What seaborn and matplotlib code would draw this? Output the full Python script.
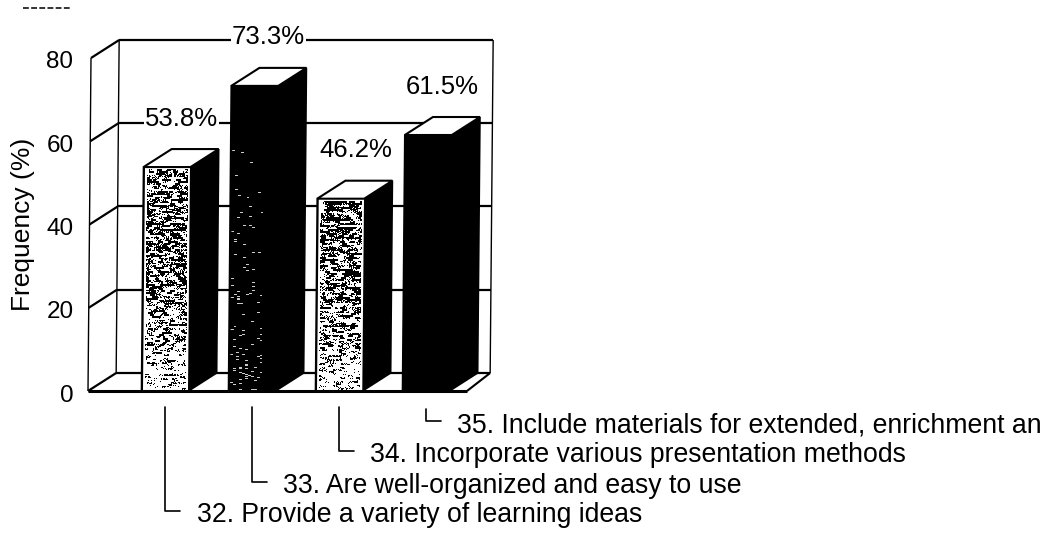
import numpy as np
import pandas as pd
import matplotlib
matplotlib.use("Agg")
import matplotlib.pyplot as plt
from matplotlib.patches import Polygon
from matplotlib.transforms import Affine2D
import seaborn as sns

items = [
    "32. Provide a variety of learning ideas",
    "33. Are well-organized and easy to use",
    "34. Incorporate various presentation methods",
    "35. Include materials for extended, enrichment an",
]
frequency = [53.8, 73.3, 46.2, 61.5]
value_labels = ["53.8%", "73.3%", "46.2%", "61.5%"]
y_ticks = [0, 20, 40, 60, 80]
stippled = [True, False, True, False]

W, H = 1051, 535
sns.set_theme(style="white")
plt.rcParams["font.family"] = ["Liberation Sans", "DejaVu Sans"]

fig = plt.figure(figsize=(W / 100, H / 100), dpi=100, facecolor="white")
# plot box of the front plane, in pixels from the top-left corner
left, right, base, top = 88, 467, 391, 58
ax = fig.add_axes([left / W, 1 - base / H, (right - left) / W, (base - top) / H])

px_x = 87.0
x0_px = 165.0
px_y = (base - top) / 80
ax.set_xlim((left - x0_px) / px_x, (right - x0_px) / px_x)
ax.set_ylim(0, 80)

df = pd.DataFrame({"item": items, "frequency": frequency})
sns.barplot(data=df, x="item", y="frequency", color="black", width=0.54,
            saturation=1, ax=ax, zorder=3)
ax.set_xlim((left - x0_px) / px_x, (right - x0_px) / px_x)
ax.set_ylim(0, 80)

# slight lean of the whole drawing
lean = Affine2D.from_values(1, 0, (3 / px_x) / 80, 1, 0, 0) + ax.transData
bars = list(ax.patches)

def X(px):
    return px / px_x

def Y(px):
    return px / px_y

def cell_hash(a, b, salt):
    # deterministic grain for the printed halftone look
    return np.modf(np.abs(np.sin(a * 12.9898 + b * 78.233 + salt) * 43758.5453))[0]

wall_dx, wall_dy = X(28), Y(18)
xa, xb = ax.get_xlim()
xr = xb + X(23)

def line(xs, ys, lw=1.6, z=1, ls="-"):
    ax.plot(xs, ys, color="black", lw=lw, ls=ls, zorder=z, clip_on=False,
            transform=lean, solid_capstyle="butt")

# back wall, side wall and floor
for t in y_ticks:
    line([xa + wall_dx, xr], [t + wall_dy] * 2)
    line([xa, xa + wall_dx], [t, t + wall_dy])
line([xa, xa], [0, 80], lw=1.0)
line([xa + wall_dx] * 2, [wall_dy, 80 + wall_dy], lw=1.0)
line([xr] * 2, [wall_dy, 80 + wall_dy], lw=1.0)
line([xa, xb], [0, 0], lw=2.2, z=6)
line([xb, xr], [0, wall_dy], lw=1.5, z=6)

# 3D faces on each bar, plus a stipple or speckle on the front
dx, dy = X(28), Y(18)
for bar, v, dotted in zip(bars, frequency, stippled):
    x1, x2 = bar.get_x(), bar.get_x() + bar.get_width()
    bar.set_transform(lean)
    bar.set_clip_on(False)
    bar.set_edgecolor("black")
    bar.set_linewidth(1.2)
    ax.add_patch(Polygon([(x2, 0), (x2, v), (x2 + dx, v + dy), (x2 + dx, dy)],
                         closed=True, fc="black", ec="black", lw=1.2,
                         transform=lean, zorder=3, clip_on=False))
    ax.add_patch(Polygon([(x1, v), (x2, v), (x2 + dx, v + dy), (x1 + dx, v + dy)],
                         closed=True, fc="white", ec="black", lw=1.5,
                         transform=lean, zorder=4, clip_on=False))
    rows = int(v * px_y)
    cols = 46
    yy, xx = np.mgrid[0:rows, 0:cols]
    depth = yy / max(rows - 1, 1)  # 0 at the top of the bar
    band = yy // 2
    blob = cell_hash(band, (xx + 3 * band) // 5, v)
    fine = cell_hash(xx, yy, v + 1.0)
    rgba = np.ones((rows, cols, 4))
    if dotted:
        score = 0.62 * blob + 0.38 * fine
        limit = 0.46 + 0.28 * np.clip(depth - 0.45, 0, 1) / 0.55
        dark = score > limit
        dark[:, :2] = False
        dark[:, -2:] = False
        dark[:2, :] = False
        rgba[dark] = (0, 0, 0, 1)
    else:
        streak = cell_hash(yy, xx // 3, v)
        speck = streak > 0.995 - 0.07 * depth ** 2
        rgba[..., 3] = speck * (v > 70) * (xx < 32) * (depth > 0.15) * 0.8
    pad = 0.012
    ax.imshow(rgba, extent=(x1 + pad, x2 - pad, pad * 4, v - pad * 8), aspect="auto",
              interpolation="nearest", origin="upper", zorder=3.5,
              transform=lean, clip_on=False)
    ax.set_xlim(xa, xb)
    ax.set_ylim(0, 80)

# value labels sit up and to the right of each bar
for i, (v, s) in enumerate(zip(frequency, value_labels)):
    ax.annotate(s, (i, v), xytext=(16.5, 48.5), textcoords="offset pixels",
                ha="center", va="center", fontsize=18.5, color="black", zorder=5,
                annotation_clip=False,
                bbox=dict(fc="white", ec="none", pad=1.0) if i in (0, 1) else None)

# stepped leader lines down to the item captions
ends = [-28.8, -21.9, -14.4, -7.2]
start = [-3.8, -3.8, -3.8, -4.3]
text_x = [197, 283, 370, 457]
for i, (e, s, tx, name) in enumerate(zip(ends, start, text_x, items)):
    ax.plot([i, i, i + X(15)], [s, e, e], color="black", lw=1.2, clip_on=False,
            zorder=2)
    ax.text((tx - x0_px) / px_x, e - 1.0, name, ha="left", va="center",
            fontsize=19.2, color="black", clip_on=False)

ax.set_xlabel("")
ax.set_ylabel("")
ax.set_xticks([])
ax.set_yticks(y_ticks)
ax.tick_params(axis="y", length=0, pad=10.5, labelsize=17.5, labelcolor="black")
for lab in ax.get_yticklabels():
    lab.set_transform(lab.get_transform() + Affine2D().translate(0, -2))
for s in ax.spines.values():
    s.set_visible(False)

fig.text(23 / W, 1 - 224 / H, "Frequency (%)", rotation=90, ha="center", va="center",
         fontsize=19, color="black")

# cut-off fragment along the top edge
fig.add_artist(plt.Line2D([23 / W, 70 / W], [1 - 8 / H] * 2, color="#333333",
                          lw=1.4, ls=(0, (3, 1.2))))

fig.savefig("out.png", dpi=100)
